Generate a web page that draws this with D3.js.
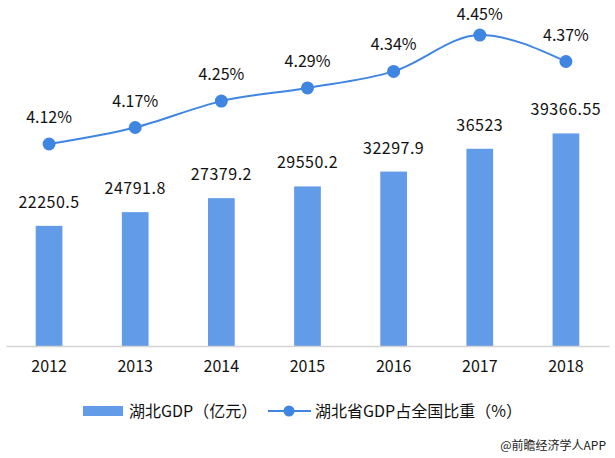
<!DOCTYPE html>
<html>
<head>
<meta charset="utf-8">
<script src="https://cdn.jsdelivr.net/npm/d3@7"></script>
<style>
  html, body { margin: 0; padding: 0; background: #fff; }
  svg { display: block; }
  text { font-family: "Noto Sans CJK SC", "Noto Sans", sans-serif; }
</style>
</head>
<body>
<svg id="chart" width="615" height="458"></svg>
<script>
const years = ["2012", "2013", "2014", "2015", "2016", "2017", "2018"];
const gdpValues = [22250.5, 24791.8, 27379.2, 29550.2, 32297.9, 36523, 39366.55];
const gdpLabels = ["22250.5", "24791.8", "27379.2", "29550.2", "32297.9", "36523", "39366.55"];
const shareValues = [4.12, 4.17, 4.25, 4.29, 4.34, 4.45, 4.37];
const shareLabels = ["4.12%", "4.17%", "4.25%", "4.29%", "4.34%", "4.45%", "4.37%"];
const legendNames = ["湖北GDP（亿元）", "湖北省GDP占全国比重（%）"];
const sourceText = "@前瞻经济学人APP";

const barColor = "#629be8";
const lineColor = "#3f85e2";

const svg = d3.select("#chart");

const x = d3.scaleBand().domain(years).range([6, 609]).paddingInner(0.69).paddingOuter(0.345);
const y = d3.scaleLinear().domain([0, 50000]).range([346, 76]);
const y2 = d3.scaleLinear().domain([3.6, 4.5]).range([315.6, 18.6]);

// bars
svg.selectAll("rect.bar").data(years).join("rect")
  .attr("class", "bar")
  .attr("x", d => x(d))
  .attr("width", x.bandwidth())
  .attr("y", (d, i) => y(gdpValues[i]))
  .attr("height", (d, i) => y(0) - y(gdpValues[i]))
  .attr("fill", barColor);

// bar value labels
svg.selectAll("text.vlab").data(years).join("text")
  .attr("class", "vlab")
  .attr("x", d => x(d) + x.bandwidth() / 2)
  .attr("y", (d, i) => y(gdpValues[i]) - 18)
  .attr("text-anchor", "middle")
  .attr("font-size", 16)
  .attr("letter-spacing", 0.5)
  .attr("fill", "#111")
  .text((d, i) => gdpLabels[i]);

// x axis
const xAxis = d3.axisBottom(x).tickSize(0).tickPadding(15);
const gx = svg.append("g").attr("transform", "translate(0,346)").call(xAxis);
gx.select(".domain").attr("stroke", "#d4d4d4").attr("stroke-width", 1.6);
gx.selectAll(".tick text")
  .attr("font-size", 16)
  .attr("fill", "#111")
  .attr("font-family", "\"Noto Sans CJK SC\", sans-serif");

// line
const cx = d => x(d) + x.bandwidth() / 2;
const line = d3.line()
  .x((d, i) => cx(years[i]))
  .y(d => y2(d))
  .curve(d3.curveMonotoneX);

svg.append("path")
  .datum(shareValues)
  .attr("d", line)
  .attr("fill", "none")
  .attr("stroke", lineColor)
  .attr("stroke-width", 2);

svg.selectAll("circle.pt").data(shareValues).join("circle")
  .attr("class", "pt")
  .attr("cx", (d, i) => cx(years[i]))
  .attr("cy", d => y2(d))
  .attr("r", 6.5)
  .attr("fill", lineColor);

svg.selectAll("text.plab").data(shareValues).join("text")
  .attr("class", "plab")
  .attr("x", (d, i) => cx(years[i]))
  .attr("y", d => Math.max(y2(d) - 21, 20))
  .attr("text-anchor", "middle")
  .attr("font-size", 16)
  .attr("fill", "#111")
  .text((d, i) => shareLabels[i]);

// legend
const lg = svg.append("g");
lg.append("rect").attr("x", 83).attr("y", 406).attr("width", 40).attr("height", 10).attr("fill", barColor);
lg.append("text").attr("x", 129).attr("y", 417).attr("font-size", 16).attr("fill", "#111").text(legendNames[0]);
lg.append("line").attr("x1", 268).attr("x2", 311).attr("y1", 411).attr("y2", 411)
  .attr("stroke", lineColor).attr("stroke-width", 2);
lg.append("circle").attr("cx", 289).attr("cy", 411).attr("r", 5.5).attr("fill", lineColor);
lg.append("text").attr("x", 315).attr("y", 417).attr("font-size", 16).attr("fill", "#111").text(legendNames[1]);

// source
svg.append("text").attr("x", 606).attr("y", 450).attr("text-anchor", "end")
  .attr("font-size", 12).attr("fill", "#222").text(sourceText);
</script>
</body>
</html>
